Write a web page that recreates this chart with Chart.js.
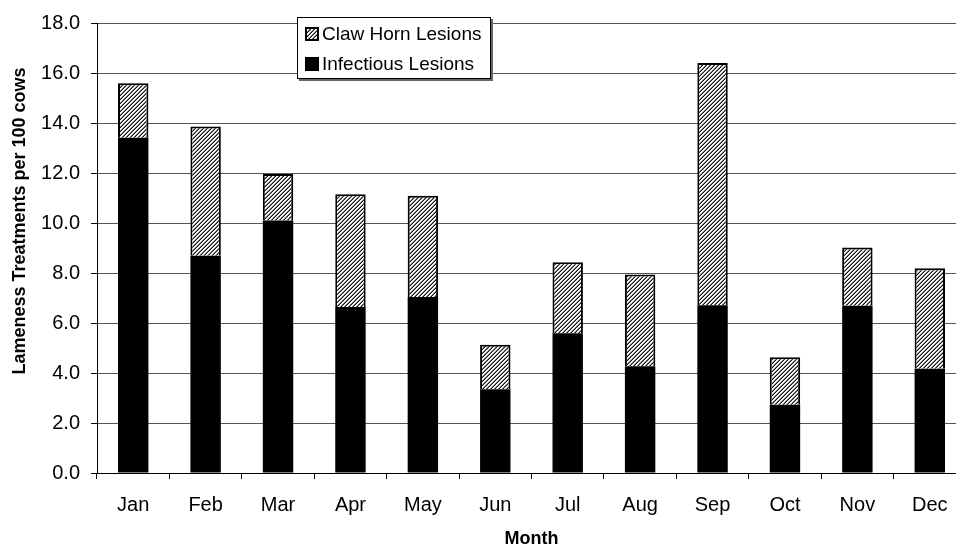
<!DOCTYPE html>
<html>
<head>
<meta charset="utf-8">
<script src="https://cdn.jsdelivr.net/npm/chart.js@4.4.1/dist/chart.umd.min.js"></script>
<style>
html, body { margin: 0; padding: 0; background: #fff; overflow: hidden; }
#clip { width: 956px; height: 548px; overflow: hidden; position: relative; }
#wrap { width: 970px; height: 548px; position: relative; }
</style>
</head>
<body>
<div id="clip"><div id="wrap"><canvas id="chartLameness"></canvas></div></div>
<script>
var months = ["Jan", "Feb", "Mar", "Apr", "May", "Jun", "Jul", "Aug", "Sep", "Oct", "Nov", "Dec"];
var infectious = [13.41, 8.69, 10.10, 6.64, 7.04, 3.35, 5.59, 4.27, 6.71, 2.73, 6.69, 4.17];
var clawHorn = [2.18, 5.17, 1.86, 4.51, 4.05, 1.78, 2.84, 3.67, 9.69, 1.90, 2.33, 4.02];
var yTicks = [0, 2, 4, 6, 8, 10, 12, 14, 16, 18];

var FONT = "'Liberation Sans', Arial, sans-serif";

// small diagonal hatch tile, "/" direction
function makeHatch() {
	var c = document.createElement("canvas");
	c.width = 4; c.height = 4;
	var cx = c.getContext("2d");
	var img = cx.createImageData(4, 4);
	var shade = [235, 255, 120, 25];
	for (var y = 0; y < 4; y++) {
		for (var x = 0; x < 4; x++) {
			var v = shade[(x + y) % 4];
			var i = (y * 4 + x) * 4;
			img.data[i] = img.data[i + 1] = img.data[i + 2] = v;
			img.data[i + 3] = 255;
		}
	}
	cx.putImageData(img, 0, 0);
	return cx.createPattern(c, "repeat");
}

var ctx = document.getElementById("chartLameness").getContext("2d");
var hatch = makeHatch();

var lameness = {};

// axis titles and the boxed legend, placed like the original
lameness.extras = {
	id: "extras",
	afterDraw: function(chart) {
		var c = chart.ctx;
		var area = chart.chartArea;
		c.save();
		c.fillStyle = "#000";
		c.font = "bold 18px " + FONT;
		c.textAlign = "center";
		c.textBaseline = "middle";
		c.fillText("Month", (area.left + area.right) / 2, 539);
		c.translate(20, 221);
		c.rotate(-Math.PI / 2);
		c.fillText("Lameness Treatments per 100 cows", 0, 0);
		c.restore();

		// legend box
		var lx = 297, ly = 17, lw = 194, lh = 62;
		c.save();
		c.fillStyle = "#666";
		c.fillRect(lx + 2, ly + 2, lw, lh);
		c.fillStyle = "#fff";
		c.fillRect(lx, ly, lw, lh);
		c.strokeStyle = "#000";
		c.lineWidth = 1;
		c.strokeRect(lx + 0.5, ly + 0.5, lw - 1, lh - 1);

		var items = [
			{ text: "Claw Horn Lesions", fill: hatch, y: 34 },
			{ text: "Infectious Lesions", fill: "#000", y: 64 }
		];
		c.font = "19px " + FONT;
		c.textAlign = "left";
		c.textBaseline = "middle";
		items.forEach(function(it) {
			c.fillStyle = it.fill;
			c.fillRect(305, it.y - 7, 14, 14);
			c.strokeStyle = "#000";
			c.lineWidth = 2;
			c.strokeRect(306, it.y - 6, 12, 12);
			c.fillStyle = "#000";
			c.fillText(it.text, 322, it.y + 1);
		});
		c.restore();
	}
};

lameness.Chart = new Chart(ctx, {
	type: "bar",
	data: {
		labels: months,
		datasets: [
			{
				label: "Infectious Lesions",
				data: infectious,
				backgroundColor: "#000",
				borderWidth: 0,
				barPercentage: 0.42,
				categoryPercentage: 1.0,
				stack: "s"
			},
			{
				label: "Claw Horn Lesions",
				data: clawHorn,
				backgroundColor: hatch,
				borderColor: "#000",
				borderWidth: 2,
				borderSkipped: "start",
				barPercentage: 0.42,
				categoryPercentage: 1.0,
				stack: "s"
			}
		]
	},
	plugins: [lameness.extras],
	options: {
		responsive: true,
		maintainAspectRatio: false,
		animation: false,
		layout: { padding: { top: 18, right: 4, left: 0, bottom: 0 } },
		plugins: {
			legend: { display: false },
			tooltip: { enabled: false }
		},
		scales: {
			x: {
				stacked: true,
				afterFit: function(s) { s.height = 75; },
				grid: {
					offset: true,
					drawOnChartArea: false,
					drawTicks: true,
					tickLength: 6,
					tickColor: "#000"
				},
				border: { color: "#000", width: 1 },
				ticks: {
					color: "#000",
					font: { family: FONT, size: 20 },
					padding: 14
				}
			},
			y: {
				stacked: true,
				min: 0,
				max: 18,
				afterFit: function(s) { s.width = 97; },
				afterBuildTicks: function(s) {
					s.ticks = yTicks.map(function(v) { return { value: v }; });
				},
				grid: {
					color: "#555",
					lineWidth: 1,
					tickLength: 6,
					tickColor: "#000"
				},
				border: { color: "#000", width: 1 },
				ticks: {
					color: "#000",
					font: { family: FONT, size: 20 },
					padding: 11,
					callback: function(v) { return Number(v).toFixed(1); }
				}
			}
		}
	}
});
</script>
</body>
</html>
